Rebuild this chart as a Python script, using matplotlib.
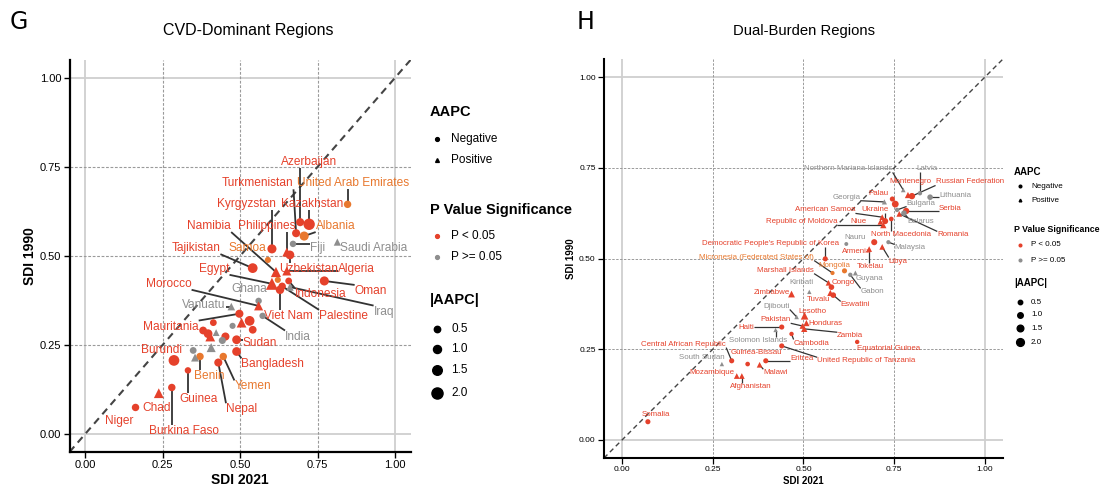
import numpy as np
import matplotlib
matplotlib.use('Agg')
import matplotlib.pyplot as plt
from matplotlib.lines import Line2D

plt.rcParams['font.family'] = ['Liberation Sans', 'DejaVu Sans']

RED = '#E5412B'
ORANGE = '#E8782E'
GREY = '#8E8E8E'
grp_color = {'sig': RED, 'mid': ORANGE, 'ns': GREY}

# ---- CVD-dominant regions ----
cvd_names = ['Azerbaijan', 'Turkmenistan', 'United Arab Emirates', 'Kazakhstan', 'Albania',
             'Fiji', 'Saudi Arabia', 'Kyrgyzstan', 'Samoa', 'Philippines', 'Uzbekistan',
             'Algeria', 'Namibia', 'Tajikistan', 'Egypt', '', 'Viet Nam', 'Palestine',
             'Indonesia', 'Oman', 'Iraq', 'Ghana', 'Morocco', 'Vanuatu', 'India', 'Mauritania',
             '', '', '', '', '', '', '', '', '', '', '', 'Sudan', 'Bangladesh', '', '', '',
             'Benin', 'Burundi', 'Yemen', 'Nepal', 'Guinea', 'Burkina Faso', 'Chad', 'Niger']
cvd_sdi2021 = [0.694, 0.681, 0.847, 0.723, 0.707, 0.671, 0.814, 0.603, 0.590, 0.651, 0.661,
               0.651, 0.616, 0.541, 0.603, 0.622, 0.629, 0.636, 0.657, 0.772, 0.661, 0.560,
               0.560, 0.472, 0.573, 0.498, 0.531, 0.505, 0.541, 0.414, 0.381, 0.397, 0.404,
               0.423, 0.453, 0.476, 0.443, 0.489, 0.489, 0.407, 0.349, 0.355, 0.371, 0.287,
               0.446, 0.430, 0.332, 0.280, 0.238, 0.163]
cvd_sdi1990 = [0.595, 0.564, 0.645, 0.589, 0.556, 0.534, 0.539, 0.520, 0.489, 0.511, 0.503,
               0.458, 0.455, 0.466, 0.422, 0.433, 0.405, 0.415, 0.430, 0.430, 0.413, 0.374,
               0.360, 0.358, 0.332, 0.338, 0.318, 0.313, 0.293, 0.313, 0.291, 0.282, 0.274,
               0.285, 0.274, 0.304, 0.263, 0.265, 0.232, 0.243, 0.235, 0.215, 0.218, 0.207,
               0.218, 0.201, 0.179, 0.131, 0.115, 0.075]
cvd_aapc = [-1.0, -1.0, -0.8, -2.0, -1.3, -0.5, 0.5, -1.3, -0.4, 1.0, -1.2,
            1.0, 1.3, -1.5, 1.8, -0.4, -1.1, -0.8, -0.6, -1.3, 0.6, -0.5,
            1.0, 0.6, -0.5, -1.0, -1.5, 1.2, -0.9, -0.6, -0.9, -1.2, 1.2,
            0.4, -1.0, -0.4, -0.7, -1.2, -1.2, 1.0, -0.6, 0.7, -0.8, -1.8,
            -0.8, -1.0, -0.5, -0.8, 1.2, -0.8]
cvd_group = ['sig', 'sig', 'mid', 'sig', 'mid', 'ns', 'ns', 'sig', 'mid', 'sig', 'sig',
             'sig', 'sig', 'sig', 'sig', 'mid', 'sig', 'sig', 'sig', 'sig', 'ns', 'ns',
             'sig', 'ns', 'ns', 'sig', 'sig', 'sig', 'sig', 'sig', 'sig', 'sig', 'sig',
             'ns', 'sig', 'ns', 'ns', 'sig', 'sig', 'ns', 'ns', 'ns', 'mid', 'sig',
             'mid', 'sig', 'sig', 'sig', 'sig', 'sig']

# ---- Dual-burden regions ----
dual_names = ['Northern Mariana Islands', 'Latvia', 'Montenegro', 'Russian Federation', 'Lithuania',
              'Georgia', 'Palau', '', 'Bulgaria', 'Serbia', 'Belarus', 'Romania', 'American Samoa',
              'Ukraine', 'Republic of Moldova', 'Niue', 'North Macedonia', 'Nauru', 'Malaysia',
              'Armenia', 'Tokelau', 'Libya', "Democratic People's Republic of Korea",
              'Micronesia (Federated States of)', 'Mongolia', 'Guyana', 'Gabon', 'Marshall Islands',
              'Congo', 'Kiribati', 'Zimbabwe', 'Tuvalu', 'Eswatini', 'Djibouti', 'Lesotho',
              'Pakistan', 'Honduras', 'Zambia', 'Haiti', 'Solomon Islands', 'Cambodia',
              'Equatorial Guinea', 'Central African Republic', 'Guinea-Bissau', 'South Sudan',
              'Malawi', 'Eritrea', 'United Republic of Tanzania', 'Mozambique', 'Afghanistan',
              'Somalia']
dual_sdi2021 = [0.775, 0.821, 0.788, 0.799, 0.849, 0.723, 0.745, 0.753, 0.758, 0.783, 0.777,
                0.764, 0.717, 0.725, 0.720, 0.712, 0.742, 0.618, 0.734, 0.695, 0.681, 0.717,
                0.560, 0.580, 0.613, 0.643, 0.629, 0.569, 0.577, 0.516, 0.467, 0.574, 0.582,
                0.481, 0.503, 0.497, 0.508, 0.502, 0.440, 0.423, 0.467, 0.648, 0.302, 0.346,
                0.275, 0.379, 0.396, 0.440, 0.316, 0.330, 0.071]
dual_sdi1990 = [0.689, 0.680, 0.675, 0.672, 0.669, 0.656, 0.664, 0.650, 0.634, 0.631, 0.625,
                0.623, 0.614, 0.603, 0.592, 0.601, 0.609, 0.540, 0.545, 0.545, 0.526, 0.532,
                0.499, 0.460, 0.466, 0.460, 0.455, 0.433, 0.421, 0.408, 0.402, 0.405, 0.399,
                0.339, 0.342, 0.314, 0.322, 0.306, 0.311, 0.303, 0.292, 0.270, 0.218, 0.209,
                0.209, 0.207, 0.218, 0.259, 0.176, 0.176, 0.050]
dual_aapc = [0.4, -0.5, 1.0, -1.3, -1.0, 0.6, -0.8, -1.5, -0.5, -1.3, -1.0,
             0.8, 0.8, -1.2, 1.0, 0.8, -0.6, -0.3, -0.4, -1.2, 0.8, 0.8,
             -0.8, -0.4, -0.8, 0.5, -0.5, 0.8, -1.0, 0.3, 1.2, 1.0, -1.0,
             0.4, 1.5, 0.8, 1.0, 1.0, -0.8, 0.3, -0.5, -0.5, -0.8, -0.6,
             0.3, 0.8, -0.8, -0.8, 0.8, 0.8, -0.8]
dual_group = ['ns', 'ns', 'sig', 'sig', 'ns', 'ns', 'sig', 'sig', 'ns', 'sig', 'ns',
              'sig', 'sig', 'sig', 'sig', 'sig', 'sig', 'ns', 'ns', 'sig', 'sig', 'sig',
              'sig', 'mid', 'mid', 'ns', 'ns', 'sig', 'sig', 'ns', 'sig', 'sig', 'sig',
              'ns', 'sig', 'sig', 'sig', 'sig', 'sig', 'ns', 'sig', 'sig', 'sig', 'sig',
              'ns', 'sig', 'sig', 'sig', 'sig', 'sig', 'sig']

# label placement (data coords) as drawn by the repel layout
cvd_label_xy = {
    'Azerbaijan': (0.723, 0.765), 'Turkmenistan': (0.557, 0.704), 'United Arab Emirates': (0.866, 0.704),
    'Kazakhstan': (0.733, 0.645), 'Albania': (0.808, 0.584), 'Fiji': (0.749, 0.522),
    'Saudi Arabia': (0.932, 0.522), 'Kyrgyzstan': (0.521, 0.645), 'Samoa': (0.524, 0.522),
    'Philippines': (0.586, 0.584), 'Uzbekistan': (0.722, 0.464), 'Algeria': (0.874, 0.464),
    'Namibia': (0.401, 0.584), 'Tajikistan': (0.358, 0.522), 'Egypt': (0.417, 0.464),
    'Viet Nam': (0.655, 0.332), 'Palestine': (0.834, 0.332), 'Indonesia': (0.759, 0.394),
    'Oman': (0.922, 0.402), 'Iraq': (0.964, 0.344), 'Ghana': (0.531, 0.408),
    'Morocco': (0.270, 0.422), 'Vanuatu': (0.384, 0.363), 'India': (0.687, 0.274),
    'Mauritania': (0.277, 0.302), 'Sudan': (0.564, 0.257), 'Bangladesh': (0.606, 0.196),
    'Benin': (0.401, 0.162), 'Burundi': (0.248, 0.237), 'Yemen': (0.541, 0.134),
    'Nepal': (0.505, 0.070), 'Guinea': (0.365, 0.098), 'Burkina Faso': (0.319, 0.008),
    'Chad': (0.231, 0.073), 'Niger': (0.111, 0.036),
}
dual_label_xy = {
    'Northern Mariana Islands': (0.624, 0.747), 'Latvia': (0.841, 0.747), 'Montenegro': (0.794, 0.711),
    'Russian Federation': (0.958, 0.711), 'Lithuania': (0.918, 0.675), 'Georgia': (0.618, 0.669),
    'Palau': (0.706, 0.680), 'Bulgaria': (0.824, 0.653), 'Serbia': (0.904, 0.639),
    'Belarus': (0.824, 0.603), 'Romania': (0.912, 0.565), 'American Samoa': (0.560, 0.634),
    'Ukraine': (0.698, 0.634), 'Republic of Moldova': (0.495, 0.601), 'Niue': (0.651, 0.601),
    'North Macedonia': (0.769, 0.565), 'Nauru': (0.643, 0.559), 'Malaysia': (0.794, 0.529),
    'Armenia': (0.646, 0.518), 'Tokelau': (0.684, 0.479), 'Libya': (0.761, 0.493),
    "Democratic People's Republic of Korea": (0.409, 0.540),
    'Micronesia (Federated States of)': (0.371, 0.504), 'Mongolia': (0.585, 0.482),
    'Guyana': (0.681, 0.446), 'Gabon': (0.690, 0.408), 'Marshall Islands': (0.451, 0.468),
    'Congo': (0.610, 0.435), 'Kiribati': (0.495, 0.433), 'Zimbabwe': (0.412, 0.405),
    'Tuvalu': (0.541, 0.386), 'Eswatini': (0.643, 0.372), 'Djibouti': (0.426, 0.369),
    'Lesotho': (0.525, 0.355), 'Pakistan': (0.423, 0.331), 'Honduras': (0.560, 0.320),
    'Zambia': (0.629, 0.287), 'Haiti': (0.341, 0.311), 'Solomon Islands': (0.376, 0.273),
    'Cambodia': (0.522, 0.267), 'Equatorial Guinea': (0.734, 0.253),
    'Central African Republic': (0.170, 0.264), 'Guinea-Bissau': (0.371, 0.240),
    'South Sudan': (0.220, 0.226), 'Malawi': (0.423, 0.185), 'Eritrea': (0.495, 0.223),
    'United Republic of Tanzania': (0.673, 0.218), 'Mozambique': (0.247, 0.185),
    'Afghanistan': (0.354, 0.146), 'Somalia': (0.093, 0.069),
}

W, H = 1105, 493
fig = plt.figure(figsize=(W / 100, H / 100), dpi=100)


def px_axes(l, t, r, b):
    return fig.add_axes([l / W, 1 - b / H, (r - l) / W, (b - t) / H])


def fig_text(px, py, s, **kw):
    kw.setdefault('ha', 'left')
    fig.text(px / W, 1 - py / H, s, va='center', **kw)


def fig_marker(px, py, **kw):
    fig.add_artist(Line2D([px / W], [1 - py / H], transform=fig.transFigure,
                          linestyle='none', **kw))


def setup_axes(ax, tick_fs, lab_fs, lw, dash_lw, tick_w):
    ax.set_xlim(-0.05, 1.05)
    ax.set_ylim(-0.05, 1.05)
    for v in [0.0, 1.0]:
        ax.axvline(v, color='#cfcfcf', lw=1.3, zorder=0)
        ax.axhline(v, color='#cfcfcf', lw=1.3, zorder=0)
    for v in [0.25, 0.5, 0.75]:
        ax.axvline(v, color='#9a9a9a', lw=dash_lw, ls=(0, (2.5, 1.5)), zorder=0)
        ax.axhline(v, color='#9a9a9a', lw=dash_lw, ls=(0, (2.5, 1.5)), zorder=0)
    ax.plot([-0.05, 1.05], [-0.05, 1.05], color='#444444', lw=lw, ls=(0, (3.5, 2.5)), zorder=1)
    ticks = [0, 0.25, 0.5, 0.75, 1.0]
    ax.set_xticks(ticks)
    ax.set_yticks(ticks)
    ax.set_xticklabels(['%.2f' % t for t in ticks])
    ax.set_yticklabels(['%.2f' % t for t in ticks])
    ax.tick_params(labelsize=tick_fs, width=tick_w, length=4, color='black', pad=2)
    for s in ['top', 'right']:
        ax.spines[s].set_visible(False)
    for s in ['left', 'bottom']:
        ax.spines[s].set_linewidth(tick_w + 0.6)
    ax.set_xlabel('SDI 2021', fontsize=lab_fs, fontweight='bold', labelpad=2)
    ax.set_ylabel('SDI 1990', fontsize=lab_fs, fontweight='bold', labelpad=2)


def draw_panel(ax, names, xs, ys, aapc, groups, label_xy, d0, d1, fs, no_leader, seg_lw):
    xs = np.array(xs)
    ys = np.array(ys)
    aapc = np.array(aapc)
    diam = d0 + d1 * np.abs(aapc)
    sizes = (diam * 0.72) ** 2
    cols = [grp_color[g] for g in groups]
    neg = aapc < 0
    ax.scatter(xs[neg], ys[neg], s=sizes[neg], c=[c for c, n in zip(cols, neg) if n],
               marker='o', linewidths=0, zorder=4)
    ax.scatter(xs[~neg], ys[~neg], s=sizes[~neg] * 1.25, c=[c for c, n in zip(cols, neg) if not n],
               marker='^', linewidths=0, zorder=4)
    texts = []
    for name, x, y, g in zip(names, xs, ys, groups):
        if not name:
            continue
        lx, ly = label_xy[name]
        t = ax.text(lx, ly, name, fontsize=fs, color=grp_color[g], ha='center', va='center', zorder=5)
        texts.append((t, x, y, name))
    fig.canvas.draw()
    inv = ax.transData.inverted()
    for t, x, y, name in texts:
        if name in no_leader:
            continue
        bb = t.get_window_extent()
        px, py = ax.transData.transform((x, y))
        cx = min(max(px, bb.x0), bb.x1)
        cy = min(max(py, bb.y0), bb.y1)
        dist = np.hypot(px - cx, py - cy)
        if dist < 5:
            continue
        a = inv.transform((cx, cy))
        ax.plot([a[0], x], [a[1], y], color='#333333', lw=seg_lw, zorder=3, solid_capstyle='butt')


# ---- left panel ----
axL = px_axes(69.5, 60, 410.5, 452)
setup_axes(axL, 8, 10, 1.5, 0.8, 1.0)
draw_panel(axL, cvd_names, cvd_sdi2021, cvd_sdi1990, cvd_aapc, cvd_group, cvd_label_xy,
           4.8, 3.3, 8.6, {'Chad', 'Niger', 'Samoa', 'Ghana'}, 1.3)

# ---- right panel ----
axR = px_axes(604, 59, 1003, 458)
setup_axes(axR, 6, 7, 1.0, 0.7, 0.9)
draw_panel(axR, dual_names, dual_sdi2021, dual_sdi1990, dual_aapc, dual_group, dual_label_xy,
           3.2, 2.4, 5.7, {'Niue', 'Congo', 'Lesotho', 'Somalia', 'Armenia', 'Nauru', 'Kiribati',
                           'Mongolia', 'Montenegro', 'Guinea-Bissau', 'Tuvalu'}, 0.9)

# titles and panel letters
fig_text(248, 31, 'CVD-Dominant Regions', fontsize=11.5, ha='center')
fig_text(804, 31, 'Dual-Burden Regions', fontsize=10.7, ha='center')
fig_text(10, 22, 'G', fontsize=17, family='DejaVu Sans')
fig_text(577, 22, 'H', fontsize=17, family='DejaVu Sans')


# ---- legends ----
def legend(x0, ys, tfs, ifs, mk, sz, gap, tfs2):
    fig_text(x0, ys[0], 'AAPC', fontsize=tfs, fontweight='bold')
    fig_marker(x0 + mk, ys[1], marker='o', color='black', markersize=sz[0] * 0.6)
    fig_text(x0 + gap, ys[1], 'Negative', fontsize=ifs)
    fig_marker(x0 + mk, ys[2], marker='^', color='black', markersize=sz[0] * 0.6)
    fig_text(x0 + gap, ys[2], 'Positive', fontsize=ifs)
    fig_text(x0, ys[3], 'P Value Significance', fontsize=tfs2, fontweight='bold')
    fig_marker(x0 + mk, ys[4], marker='o', color=RED, markersize=sz[0] * 0.6)
    fig_text(x0 + gap, ys[4], 'P < 0.05', fontsize=ifs)
    fig_marker(x0 + mk, ys[5], marker='o', color=GREY, markersize=sz[0] * 0.6)
    fig_text(x0 + gap, ys[5], 'P >= 0.05', fontsize=ifs)
    fig_text(x0, ys[6], '|AAPC|', fontsize=tfs, fontweight='bold')
    for i, v in enumerate([0.5, 1.0, 1.5, 2.0]):
        fig_marker(x0 + mk, ys[7 + i], marker='o', color='black', markersize=sz[i])
        fig_text(x0 + gap, ys[7 + i], '%.1f' % v, fontsize=ifs)


legend(430, [112, 139, 160, 210, 236, 257, 300, 329, 349, 370, 393], 10.5, 8.5, 7,
       [4.6, 5.8, 6.9, 8.0], 21, 10.5)
legend(1014, [172, 186, 200, 230, 245, 260, 283, 302, 315, 328, 342], 7, 5.8, 6,
       [3.2, 4.0, 4.8, 5.6], 17, 6.3)

fig.savefig('out.png', dpi=100)
